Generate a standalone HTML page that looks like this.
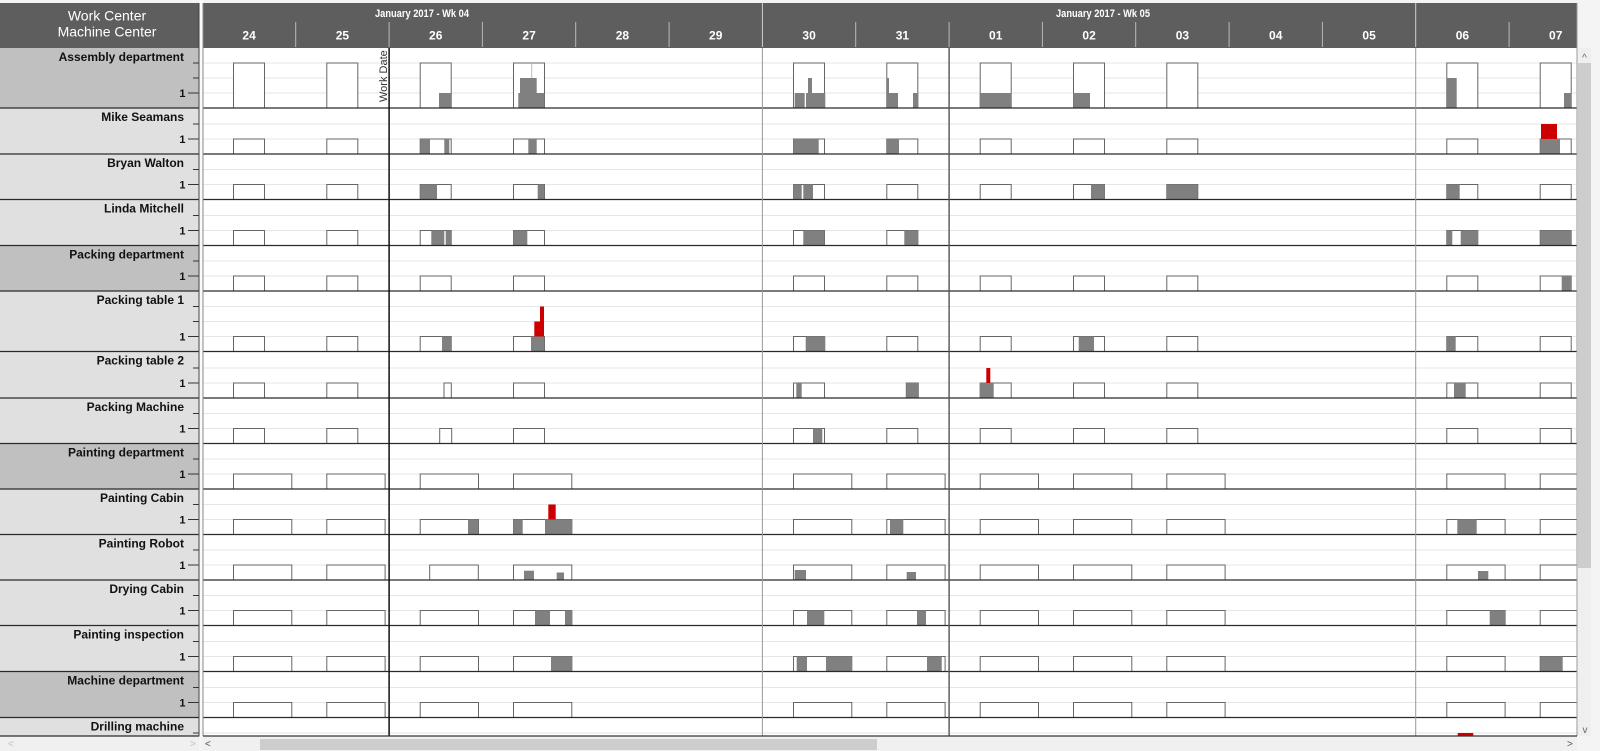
<!DOCTYPE html>
<html>
<head>
<meta charset="utf-8">
<style>
html,body{margin:0;padding:0;background:#f4f4f4;}
body{width:1600px;height:751px;overflow:hidden;}
svg{display:block;}
</style>
</head>
<body>
<svg width="1600" height="751" viewBox="0 0 1600 751" xmlns="http://www.w3.org/2000/svg" font-family="'Liberation Sans', Arial, sans-serif">
<defs>
  <clipPath id="chartclip"><rect x="203" y="48" width="1374" height="688"/></clipPath>
  <g id="sb" fill="#fff" stroke="#666" stroke-width="1">
    <rect x="233.5" y="0" width="31" height="15"/>
    <rect x="326.8" y="0" width="31" height="15"/>
    <rect x="420.2" y="0" width="31" height="15"/>
    <rect x="513.5" y="0" width="31" height="15"/>
    <rect x="793.5" y="0" width="31" height="15"/>
    <rect x="886.8" y="0" width="31" height="15"/>
    <rect x="980.2" y="0" width="31" height="15"/>
    <rect x="1073.5" y="0" width="31" height="15"/>
    <rect x="1166.8" y="0" width="31" height="15"/>
    <rect x="1446.8" y="0" width="31" height="15"/>
    <rect x="1540.2" y="0" width="31" height="15"/>
  </g>
  <g id="lb" fill="#fff" stroke="#666" stroke-width="1">
    <rect x="233.5" y="0" width="58.3" height="15"/>
    <rect x="326.8" y="0" width="58.3" height="15"/>
    <rect x="420.2" y="0" width="58.3" height="15"/>
    <rect x="513.5" y="0" width="58.3" height="15"/>
    <rect x="793.5" y="0" width="58.3" height="15"/>
    <rect x="886.8" y="0" width="58.3" height="15"/>
    <rect x="980.2" y="0" width="58.3" height="15"/>
    <rect x="1073.5" y="0" width="58.3" height="15"/>
    <rect x="1166.8" y="0" width="58.3" height="15"/>
    <rect x="1446.8" y="0" width="58.3" height="15"/>
    <rect x="1540.2" y="0" width="58.3" height="15"/>
  </g>
</defs>

<!-- page background -->
<rect x="0" y="0" width="1600" height="751" fill="#f4f4f4"/>
<rect x="199" y="0" width="4" height="737" fill="#fafafa"/>

<!-- ============ LEFT PANEL ============ -->
<rect x="0" y="3" width="199" height="45" fill="#5e5e5e"/>
<text x="107" y="20.7" fill="#fff" font-size="14" text-anchor="middle">Work Center</text>
<text x="107" y="36.5" fill="#fff" font-size="14" text-anchor="middle">Machine Center</text>

<g>
  <rect x="0" y="48" width="199" height="60" fill="#c0c0c0"/>
  <rect x="0" y="108" width="199" height="46" fill="#e0e0e0"/>
  <rect x="0" y="154" width="199" height="45.5" fill="#e0e0e0"/>
  <rect x="0" y="199.5" width="199" height="46" fill="#e0e0e0"/>
  <rect x="0" y="245.5" width="199" height="45.5" fill="#c0c0c0"/>
  <rect x="0" y="291" width="199" height="60.5" fill="#e0e0e0"/>
  <rect x="0" y="351.5" width="199" height="46.5" fill="#e0e0e0"/>
  <rect x="0" y="398" width="199" height="45.5" fill="#e0e0e0"/>
  <rect x="0" y="443.5" width="199" height="45.5" fill="#c0c0c0"/>
  <rect x="0" y="489" width="199" height="45.5" fill="#e0e0e0"/>
  <rect x="0" y="534.5" width="199" height="45.5" fill="#e0e0e0"/>
  <rect x="0" y="580" width="199" height="45.5" fill="#e0e0e0"/>
  <rect x="0" y="625.5" width="199" height="46" fill="#e0e0e0"/>
  <rect x="0" y="671.5" width="199" height="46" fill="#c0c0c0"/>
  <rect x="0" y="717.5" width="199" height="18.5" fill="#e0e0e0"/>
</g>

<g font-size="12" font-weight="bold" fill="#111" text-anchor="end">
  <text x="184" y="61">Assembly department</text>
  <text x="184" y="121">Mike Seamans</text>
  <text x="184" y="167">Bryan Walton</text>
  <text x="184" y="212.5">Linda Mitchell</text>
  <text x="184" y="258.5">Packing department</text>
  <text x="184" y="304">Packing table 1</text>
  <text x="184" y="364.5">Packing table 2</text>
  <text x="184" y="411">Packing Machine</text>
  <text x="184" y="456.5">Painting department</text>
  <text x="184" y="502">Painting Cabin</text>
  <text x="184" y="547.5">Painting Robot</text>
  <text x="184" y="593">Drying Cabin</text>
  <text x="184" y="638.5">Painting inspection</text>
  <text x="184" y="684.5">Machine department</text>
  <text x="184" y="730.5">Drilling machine</text>
</g>

<!-- left axis ticks -->
<g stroke="#333" stroke-width="1">
  <line x1="193" y1="63" x2="199" y2="63"/><line x1="193" y1="78" x2="199" y2="78"/><line x1="188" y1="93" x2="199" y2="93"/>
  <line x1="193" y1="124" x2="199" y2="124"/><line x1="188" y1="139" x2="199" y2="139"/>
  <line x1="193" y1="169.5" x2="199" y2="169.5"/><line x1="188" y1="184.5" x2="199" y2="184.5"/>
  <line x1="193" y1="215.5" x2="199" y2="215.5"/><line x1="188" y1="230.5" x2="199" y2="230.5"/>
  <line x1="193" y1="261" x2="199" y2="261"/><line x1="188" y1="276" x2="199" y2="276"/>
  <line x1="193" y1="306.5" x2="199" y2="306.5"/><line x1="193" y1="321.5" x2="199" y2="321.5"/><line x1="188" y1="336.5" x2="199" y2="336.5"/>
  <line x1="193" y1="368" x2="199" y2="368"/><line x1="188" y1="383" x2="199" y2="383"/>
  <line x1="193" y1="413.5" x2="199" y2="413.5"/><line x1="188" y1="428.5" x2="199" y2="428.5"/>
  <line x1="193" y1="459" x2="199" y2="459"/><line x1="188" y1="474" x2="199" y2="474"/>
  <line x1="193" y1="504.5" x2="199" y2="504.5"/><line x1="188" y1="519.5" x2="199" y2="519.5"/>
  <line x1="193" y1="550" x2="199" y2="550"/><line x1="188" y1="565" x2="199" y2="565"/>
  <line x1="193" y1="595.5" x2="199" y2="595.5"/><line x1="188" y1="610.5" x2="199" y2="610.5"/>
  <line x1="193" y1="641.5" x2="199" y2="641.5"/><line x1="188" y1="656.5" x2="199" y2="656.5"/>
  <line x1="193" y1="687.5" x2="199" y2="687.5"/><line x1="188" y1="702.5" x2="199" y2="702.5"/>
  <line x1="193" y1="733" x2="199" y2="733"/>
</g>
<g font-size="11" font-weight="bold" fill="#111" text-anchor="end">
  <text x="185.5" y="97">1</text>
  <text x="185.5" y="143">1</text>
  <text x="185.5" y="188.5">1</text>
  <text x="185.5" y="234.5">1</text>
  <text x="185.5" y="280">1</text>
  <text x="185.5" y="340.5">1</text>
  <text x="185.5" y="387">1</text>
  <text x="185.5" y="432.5">1</text>
  <text x="185.5" y="478">1</text>
  <text x="185.5" y="523.5">1</text>
  <text x="185.5" y="569">1</text>
  <text x="185.5" y="614.5">1</text>
  <text x="185.5" y="660.5">1</text>
  <text x="185.5" y="706.5">1</text>
</g>

<!-- left separators -->
<g stroke="#2a2a2a" stroke-width="1.3">
  <line x1="0" y1="108" x2="199" y2="108"/>
  <line x1="0" y1="154" x2="199" y2="154"/>
  <line x1="0" y1="199.5" x2="199" y2="199.5"/>
  <line x1="0" y1="245.5" x2="199" y2="245.5"/>
  <line x1="0" y1="291" x2="199" y2="291"/>
  <line x1="0" y1="351.5" x2="199" y2="351.5"/>
  <line x1="0" y1="398" x2="199" y2="398"/>
  <line x1="0" y1="443.5" x2="199" y2="443.5"/>
  <line x1="0" y1="489" x2="199" y2="489"/>
  <line x1="0" y1="534.5" x2="199" y2="534.5"/>
  <line x1="0" y1="580" x2="199" y2="580"/>
  <line x1="0" y1="625.5" x2="199" y2="625.5"/>
  <line x1="0" y1="671.5" x2="199" y2="671.5"/>
  <line x1="0" y1="717.5" x2="199" y2="717.5"/>
  <line x1="0" y1="736" x2="199" y2="736"/>
</g>
<line x1="199" y1="3" x2="199" y2="736.5" stroke="#444" stroke-width="1"/>

<!-- ============ CHART ============ -->
<rect x="203" y="48" width="1374" height="688" fill="#fff"/>

<!-- header -->
<rect x="203" y="3" width="1374" height="45" fill="#5e5e5e"/>
<g stroke="#b8b8b8" stroke-width="1">
  <line x1="295.7" y1="22" x2="295.7" y2="47"/>
  <line x1="389.1" y1="22" x2="389.1" y2="47"/>
  <line x1="482.4" y1="22" x2="482.4" y2="47"/>
  <line x1="575.7" y1="22" x2="575.7" y2="47"/>
  <line x1="669.1" y1="22" x2="669.1" y2="47"/>
  <line x1="855.7" y1="22" x2="855.7" y2="47"/>
  <line x1="949.1" y1="22" x2="949.1" y2="47"/>
  <line x1="1042.4" y1="22" x2="1042.4" y2="47"/>
  <line x1="1135.7" y1="22" x2="1135.7" y2="47"/>
  <line x1="1229.1" y1="22" x2="1229.1" y2="47"/>
  <line x1="1322.4" y1="22" x2="1322.4" y2="47"/>
  <line x1="1509.1" y1="22" x2="1509.1" y2="47"/>
</g>
<g stroke="#d0d0d0" stroke-width="1">
  <line x1="762.4" y1="3" x2="762.4" y2="47"/>
  <line x1="1415.7" y1="3" x2="1415.7" y2="47"/>
</g>
<g fill="#fff" font-size="11" font-weight="bold">
  <text x="375" y="17" textLength="94" lengthAdjust="spacingAndGlyphs">January 2017 - Wk 04</text>
  <text x="1056" y="17" textLength="94" lengthAdjust="spacingAndGlyphs">January 2017 - Wk 05</text>
</g>
<g fill="#fff" font-size="12" font-weight="bold" text-anchor="middle">
  <text x="249.1" y="39.5">24</text>
  <text x="342.4" y="39.5">25</text>
  <text x="435.7" y="39.5">26</text>
  <text x="529.1" y="39.5">27</text>
  <text x="622.4" y="39.5">28</text>
  <text x="715.7" y="39.5">29</text>
  <text x="809.1" y="39.5">30</text>
  <text x="902.4" y="39.5">31</text>
  <text x="995.7" y="39.5">01</text>
  <text x="1089.1" y="39.5">02</text>
  <text x="1182.4" y="39.5">03</text>
  <text x="1275.7" y="39.5">04</text>
  <text x="1369.1" y="39.5">05</text>
  <text x="1462.4" y="39.5">06</text>
  <text x="1555.7" y="39.5">07</text>
</g>

<g clip-path="url(#chartclip)">
<!-- gridlines -->
<g stroke="#e6e6e6" stroke-width="1">
  <line x1="203" y1="63" x2="1577" y2="63"/><line x1="203" y1="78" x2="1577" y2="78"/><line x1="203" y1="93" x2="1577" y2="93"/>
  <line x1="203" y1="124" x2="1577" y2="124"/><line x1="203" y1="139" x2="1577" y2="139"/>
  <line x1="203" y1="169.5" x2="1577" y2="169.5"/><line x1="203" y1="184.5" x2="1577" y2="184.5"/>
  <line x1="203" y1="215.5" x2="1577" y2="215.5"/><line x1="203" y1="230.5" x2="1577" y2="230.5"/>
  <line x1="203" y1="261" x2="1577" y2="261"/><line x1="203" y1="276" x2="1577" y2="276"/>
  <line x1="203" y1="306.5" x2="1577" y2="306.5"/><line x1="203" y1="321.5" x2="1577" y2="321.5"/><line x1="203" y1="336.5" x2="1577" y2="336.5"/>
  <line x1="203" y1="368" x2="1577" y2="368"/><line x1="203" y1="383" x2="1577" y2="383"/>
  <line x1="203" y1="413.5" x2="1577" y2="413.5"/><line x1="203" y1="428.5" x2="1577" y2="428.5"/>
  <line x1="203" y1="459" x2="1577" y2="459"/><line x1="203" y1="474" x2="1577" y2="474"/>
  <line x1="203" y1="504.5" x2="1577" y2="504.5"/><line x1="203" y1="519.5" x2="1577" y2="519.5"/>
  <line x1="203" y1="550" x2="1577" y2="550"/><line x1="203" y1="565" x2="1577" y2="565"/>
  <line x1="203" y1="595.5" x2="1577" y2="595.5"/><line x1="203" y1="610.5" x2="1577" y2="610.5"/>
  <line x1="203" y1="641.5" x2="1577" y2="641.5"/><line x1="203" y1="656.5" x2="1577" y2="656.5"/>
  <line x1="203" y1="687.5" x2="1577" y2="687.5"/><line x1="203" y1="702.5" x2="1577" y2="702.5"/>
  <line x1="203" y1="733" x2="1577" y2="733"/>
</g>

<!-- capacity boxes -->
<g fill="#fff" stroke="#666" stroke-width="1">
  <!-- Assembly (3 units) -->
  <rect x="233.5" y="63" width="31" height="45"/>
  <rect x="326.8" y="63" width="31" height="45"/>
  <rect x="420.2" y="63" width="31" height="45"/>
  <rect x="513.5" y="63" width="31" height="45"/>
  <rect x="793.5" y="63" width="31" height="45"/>
  <rect x="886.8" y="63" width="31" height="45"/>
  <rect x="980.2" y="63" width="31" height="45"/>
  <rect x="1073.5" y="63" width="31" height="45"/>
  <rect x="1166.8" y="63" width="31" height="45"/>
  <rect x="1446.8" y="63" width="31" height="45"/>
  <rect x="1540.2" y="63" width="31" height="45"/>
  <!-- Linda -->
  <rect x="233.5" y="230.5" width="31" height="15"/>
  <rect x="326.8" y="230.5" width="31" height="15"/>
  <rect x="420.2" y="230.5" width="31" height="15"/>
  <rect x="513.5" y="230.5" width="31" height="15"/>
  <rect x="793.5" y="230.5" width="31" height="15"/>
  <rect x="886.8" y="230.5" width="31" height="15"/>
  <rect x="1446.8" y="230.5" width="31" height="15"/>
  <rect x="1540.2" y="230.5" width="31" height="15"/>
  <!-- Packing table 2 -->
  <rect x="233.5" y="383" width="31" height="15"/>
  <rect x="326.8" y="383" width="31" height="15"/>
  <rect x="444" y="383" width="7.3" height="15"/>
  <rect x="513.5" y="383" width="31" height="15"/>
  <rect x="793.5" y="383" width="31" height="15"/>
  <rect x="906.3" y="383" width="12" height="15"/>
  <rect x="980.2" y="383" width="31" height="15"/>
  <rect x="1073.5" y="383" width="31" height="15"/>
  <rect x="1166.8" y="383" width="31" height="15"/>
  <rect x="1446.8" y="383" width="31" height="15"/>
  <rect x="1540.2" y="383" width="31" height="15"/>
  <!-- Packing Machine -->
  <rect x="233.5" y="428.5" width="31" height="15"/>
  <rect x="326.8" y="428.5" width="31" height="15"/>
  <rect x="439.7" y="428.5" width="12" height="15"/>
  <rect x="513.5" y="428.5" width="31" height="15"/>
  <rect x="793.5" y="428.5" width="31" height="15"/>
  <rect x="886.8" y="428.5" width="31" height="15"/>
  <rect x="980.2" y="428.5" width="31" height="15"/>
  <rect x="1073.5" y="428.5" width="31" height="15"/>
  <rect x="1166.8" y="428.5" width="31" height="15"/>
  <rect x="1446.8" y="428.5" width="31" height="15"/>
  <rect x="1540.2" y="428.5" width="31" height="15"/>
  <!-- Painting Robot -->
  <rect x="233.5" y="565" width="58.3" height="15"/>
  <rect x="326.8" y="565" width="58.3" height="15"/>
  <rect x="429.7" y="565" width="48.6" height="15"/>
  <rect x="513.5" y="565" width="58.3" height="15"/>
  <rect x="793.5" y="565" width="58.3" height="15"/>
  <rect x="886.8" y="565" width="58.3" height="15"/>
  <rect x="980.2" y="565" width="58.3" height="15"/>
  <rect x="1073.5" y="565" width="58.3" height="15"/>
  <rect x="1166.8" y="565" width="58.3" height="15"/>
  <rect x="1446.8" y="565" width="58.3" height="15"/>
  <rect x="1540.2" y="565" width="58.3" height="15"/>
</g>
<use href="#sb" x="0" y="139"/>
<use href="#sb" x="0" y="184.5"/>
<use href="#sb" x="0" y="276"/>
<use href="#sb" x="0" y="336.5"/>
<use href="#lb" x="0" y="474"/>
<use href="#lb" x="0" y="519.5"/>
<use href="#lb" x="0" y="610.5"/>
<use href="#lb" x="0" y="656.5"/>
<use href="#lb" x="0" y="702.5"/>

<!-- load bars (gray) -->
<g fill="#808080">
  <!-- Assembly -->
  <rect x="439" y="93" width="12.7" height="15"/>
  <rect x="518.3" y="93" width="26" height="15"/>
  <rect x="520" y="78" width="16.7" height="30"/>
  <rect x="794.7" y="93" width="10" height="15"/>
  <rect x="806" y="93" width="19.3" height="15"/>
  <rect x="808" y="78" width="4" height="30"/>
  <rect x="887" y="93" width="11" height="15"/>
  <rect x="887" y="78" width="2" height="30"/>
  <rect x="913" y="93" width="5.3" height="15"/>
  <rect x="979.7" y="93" width="31.6" height="15"/>
  <rect x="1073.3" y="93" width="16.7" height="15"/>
  <rect x="1446.3" y="78" width="10.4" height="30"/>
  <rect x="1564" y="93" width="7.3" height="15"/>
  <!-- Mike -->
  <rect x="420.3" y="139" width="9.7" height="15"/>
  <rect x="444.3" y="139" width="5" height="15"/>
  <rect x="528.3" y="139" width="8.4" height="15"/>
  <rect x="793.3" y="139" width="25.4" height="15"/>
  <rect x="887" y="139" width="12" height="15"/>
  <rect x="1540.3" y="139" width="19.7" height="15"/>
  <!-- Bryan -->
  <rect x="420.3" y="184.5" width="16.7" height="15"/>
  <rect x="537.7" y="184.5" width="6.6" height="15"/>
  <rect x="793.3" y="184.5" width="8.4" height="15"/>
  <rect x="803.3" y="184.5" width="9.7" height="15"/>
  <rect x="1091" y="184.5" width="13.7" height="15"/>
  <rect x="1166.3" y="184.5" width="31.4" height="15"/>
  <rect x="1446.3" y="184.5" width="13.4" height="15"/>
  <!-- Linda -->
  <rect x="431.3" y="230.5" width="13" height="15"/>
  <rect x="445.7" y="230.5" width="6" height="15"/>
  <rect x="513.3" y="230.5" width="14" height="15"/>
  <rect x="803.3" y="230.5" width="21" height="15"/>
  <rect x="904.3" y="230.5" width="14" height="15"/>
  <rect x="1446.3" y="230.5" width="6" height="15"/>
  <rect x="1460.7" y="230.5" width="16.6" height="15"/>
  <rect x="1540.3" y="230.5" width="31" height="15"/>
  <!-- Packing dept -->
  <rect x="1561.7" y="276" width="9.6" height="15"/>
  <!-- Packing table 1 -->
  <rect x="442" y="336.5" width="9.7" height="15"/>
  <rect x="531" y="336.5" width="13.3" height="15"/>
  <rect x="805.7" y="336.5" width="19.6" height="15"/>
  <rect x="1078.7" y="336.5" width="15.3" height="15"/>
  <rect x="1446.3" y="336.5" width="9.4" height="15"/>
  <!-- Packing table 2 -->
  <rect x="796.3" y="383" width="5.4" height="15"/>
  <rect x="906.3" y="383" width="12" height="15"/>
  <rect x="979.7" y="383" width="14" height="15"/>
  <rect x="1454" y="383" width="11.7" height="15"/>
  <!-- Packing Machine -->
  <rect x="813" y="428.5" width="9.3" height="15"/>
  <!-- Painting Cabin -->
  <rect x="468" y="519.5" width="10.3" height="15"/>
  <rect x="513.3" y="519.5" width="9.4" height="15"/>
  <rect x="545" y="519.5" width="27.3" height="15"/>
  <rect x="890" y="519.5" width="13.3" height="15"/>
  <rect x="1457.3" y="519.5" width="19.4" height="15"/>
  <!-- Painting Robot -->
  <rect x="524" y="570.7" width="10" height="9.3"/>
  <rect x="556.7" y="572.5" width="7.3" height="7.5"/>
  <rect x="794.7" y="570" width="11.3" height="10"/>
  <rect x="906.7" y="572" width="9.3" height="8"/>
  <rect x="1478" y="571" width="10.3" height="9"/>
  <!-- Drying Cabin -->
  <rect x="535" y="610.5" width="15" height="15"/>
  <rect x="565" y="610.5" width="7.3" height="15"/>
  <rect x="807" y="610.5" width="17.3" height="15"/>
  <rect x="917" y="610.5" width="9" height="15"/>
  <rect x="1489.7" y="610.5" width="15.3" height="15"/>
  <!-- Painting inspection -->
  <rect x="551" y="656.5" width="21.3" height="15"/>
  <rect x="796.7" y="656.5" width="10.3" height="15"/>
  <rect x="826" y="656.5" width="26" height="15"/>
  <rect x="927" y="656.5" width="14.7" height="15"/>
  <rect x="1540.3" y="656.5" width="22.4" height="15"/>
</g>
<line x1="531.7" y1="63" x2="531.7" y2="78" stroke="#bbb" stroke-width="1"/>

<!-- overload bars (red) -->
<g fill="#cc0000">
  <rect x="1541" y="124" width="16" height="15"/>
  <rect x="534.3" y="321.5" width="5.7" height="15"/>
  <rect x="540" y="306.5" width="4" height="30"/>
  <rect x="986.3" y="368" width="4" height="15"/>
  <rect x="548.3" y="504.5" width="7.4" height="15"/>
  <rect x="1457.7" y="733" width="15.6" height="3"/>
</g>

<!-- row separators -->
<g stroke="#2a2a2a" stroke-width="1.3">
  <line x1="203" y1="108" x2="1577" y2="108"/>
  <line x1="203" y1="154" x2="1577" y2="154"/>
  <line x1="203" y1="199.5" x2="1577" y2="199.5"/>
  <line x1="203" y1="245.5" x2="1577" y2="245.5"/>
  <line x1="203" y1="291" x2="1577" y2="291"/>
  <line x1="203" y1="351.5" x2="1577" y2="351.5"/>
  <line x1="203" y1="398" x2="1577" y2="398"/>
  <line x1="203" y1="443.5" x2="1577" y2="443.5"/>
  <line x1="203" y1="489" x2="1577" y2="489"/>
  <line x1="203" y1="534.5" x2="1577" y2="534.5"/>
  <line x1="203" y1="580" x2="1577" y2="580"/>
  <line x1="203" y1="625.5" x2="1577" y2="625.5"/>
  <line x1="203" y1="671.5" x2="1577" y2="671.5"/>
  <line x1="203" y1="717.5" x2="1577" y2="717.5"/>
</g>

<!-- vertical markers -->
<line x1="762.4" y1="48" x2="762.4" y2="736" stroke="#9a9a9a" stroke-width="1"/>
<line x1="1415.7" y1="48" x2="1415.7" y2="736" stroke="#9a9a9a" stroke-width="1"/>
<line x1="949.1" y1="48" x2="949.1" y2="736" stroke="#555" stroke-width="1.4"/>
<line x1="389.1" y1="48" x2="389.1" y2="736" stroke="#111" stroke-width="1.5"/>
</g>

<!-- Work Date label -->
<text transform="translate(387,102) rotate(-90)" font-size="11" fill="#333">Work Date</text>

<!-- chart borders -->
<line x1="203" y1="3" x2="203" y2="736" stroke="#888" stroke-width="1"/>
<line x1="1577" y1="3" x2="1577" y2="736" stroke="#999" stroke-width="1"/>
<line x1="203" y1="736" x2="1577" y2="736" stroke="#333" stroke-width="1.2"/>

<!-- vertical scrollbar -->
<rect x="1578" y="48" width="13" height="688" fill="#efefef"/>
<rect x="1578" y="63" width="13" height="505" fill="#cdcdcd"/>
<text x="1584.5" y="61" font-size="10" fill="#666" text-anchor="middle">^</text>
<text x="1585" y="733" font-size="10" fill="#666" text-anchor="middle">v</text>

<!-- horizontal scrollbars -->
<rect x="0" y="737" width="199" height="14" fill="#f0f0f0"/>
<text x="8" y="747" font-size="10" fill="#c0c0c0">&lt;</text>
<text x="190" y="747" font-size="10" fill="#c0c0c0">&gt;</text>
<rect x="203" y="737" width="1374" height="14" fill="#f0f0f0"/>
<text x="205" y="747" font-size="10" fill="#555">&lt;</text>
<rect x="260" y="739" width="617" height="11" fill="#cdcdcd"/>
<text x="1567" y="747" font-size="10" fill="#555">&gt;</text>
</svg>
</body>
</html>
